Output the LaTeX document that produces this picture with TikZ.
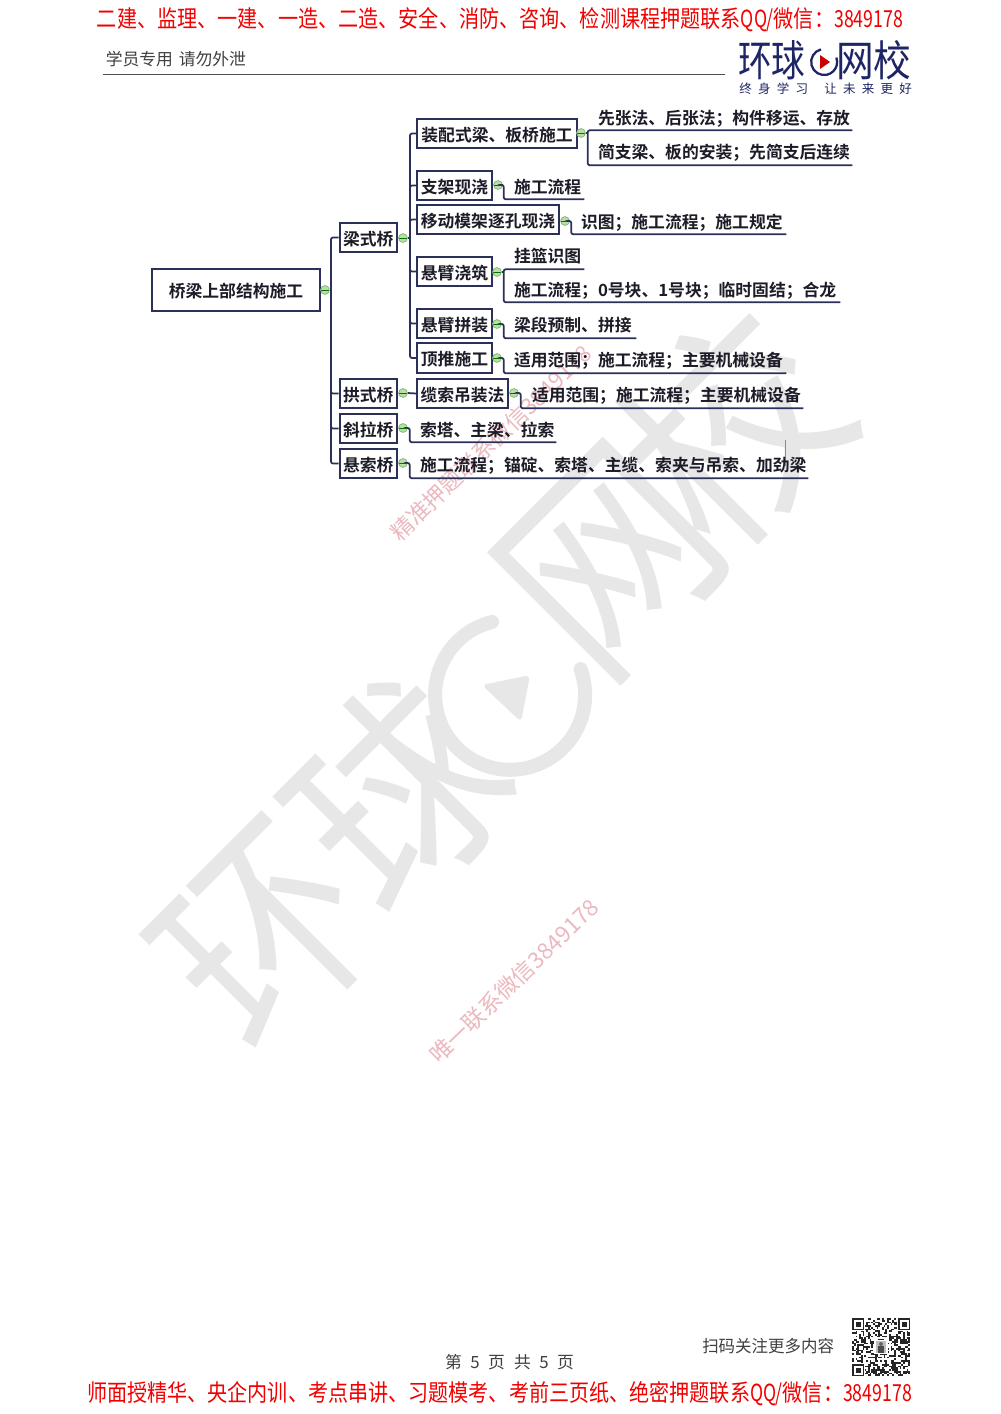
\documentclass[tikz,border=0pt]{standalone}
\usepackage{fontspec}
\setmainfont{Noto Sans CJK SC}[BoldFont={Noto Sans CJK SC Bold}]
\newfontfamily\subf[LetterSpace=50]{Noto Sans CJK SC}
\definecolor{navy}{HTML}{2B3058}
\definecolor{ink}{HTML}{1C1C28}
\definecolor{logoblue}{HTML}{1E2566}
\definecolor{wm}{HTML}{E7E7E7}
\definecolor{wmred}{HTML}{EBB9BF}
\definecolor{tgfill}{HTML}{BBDDAA}
\definecolor{tgline}{HTML}{86B878}
\tikzset{
  mapbox/.style={draw=navy,line width=1.5pt,fill=white,inner sep=0pt,font=\fontsize{12.6pt}{14pt}\selectfont\bfseries,text=ink},
  leaf/.style={inner sep=0pt,font=\fontsize{12.6pt}{14pt}\selectfont\bfseries,text=ink},
  conn/.style={draw=navy,line width=1.3pt,rounded corners=1.5pt},
  toggle/.style={circle,draw=tgline,fill=tgfill,line width=.6pt,minimum size=6.6pt,inner sep=0pt,
     path picture={\draw[black!55!green,line width=.5pt](path picture bounding box.west)--(path picture bounding box.east);}},
  grayt/.style={text=black!75,font=\fontsize{12.6pt}{14pt}\selectfont},
  redt/.style={text=red!95!black,inner sep=0pt},
  wmchar/.style={text=wm,inner sep=0pt,rotate=45,font=\fontsize{165pt}{165pt}\selectfont},
  wmsmall/.style={text=wmred,inner sep=0pt,rotate=44,font=\fontsize{17pt}{18pt}\selectfont},
}
\newcommand{\nar}[1]{\scalebox{.88}[1]{#1}}
\newcommand{\mbx}[6]{\node[mapbox,minimum width={(#4-#2)*0.75pt},minimum height={(#5-#3)*0.75pt}] (#1) at ({(#2+#4)/2},{(#3+#5)/2}) {\raisebox{0pt}[11.5pt][0pt]{#6}};}
\newcommand{\lf}[7]{\pgfmathsetlengthmacro\lw{(#3-#2)*0.75pt}\pgfmathsetlengthmacro\ls{(#6-#2)*0.75pt}\pgfmathsetlengthmacro\lh{2*(#4-#5)*0.75pt}%
  \node[leaf,minimum height=\lh] (#1) at ({(#2+#3)/2},#5) {\hbox to \lw{\hskip\ls\raisebox{0pt}[10pt][0pt]{#7}\hfil}};}
\begin{document}
\begin{tikzpicture}[x=0.75pt,y=-0.75pt]
\useasboundingbox (0,0) rectangle (1000,1414);
\fill[white] (0,0) rectangle (1000,1414);
% big watermark
\node[wmchar] (wm1) at (268,938) {\scalebox{.88}[1]{环}};
\node[wmchar] (wm2) at (398,795) {\scalebox{.9}[1]{球}};
\node[wmchar] (wm4) at (612,562) {\scalebox{.9}[1]{网}};
\node[wmchar] (wm5) at (732,428) {\scalebox{.95}[1]{校}};
\draw[wm,line width=10.5pt,line cap=round] (492,622) arc[start angle=256,end angle=-20,radius=75];
\fill[wm,rounded corners=4pt] (482,685) -- (530,675) -- (521,722) -- cycle;
% red small watermarks
\node[wmsmall] (wm6) at (491,443) {精准押题联系微信3849178};
\node[wmsmall] (wm7) at (514,981) {唯一联系微信3849178};
\draw[black!45,line width=.4pt] (785,440) -- (785,466);
% header
\node[redt] (top) at (500,20) {\resizebox{604.5pt}{15pt}{\fontsize{15pt}{15pt}\selectfont 二建、监理、一建、一造、二造、安全、消防、咨询、检测课程押题联系\nar{QQ/}微信：\nar{3849178}}};
\node[grayt,inner sep=0pt,anchor=west] (stu) at (105.5,59) {学员专用\hspace{.35em}请勿外泄};
\draw[black!70,line width=.9pt] (103,74.5) -- (725,74.5);
\node[text=logoblue,inner sep=0pt,anchor=west] (lg1) at (738,60) {\resizebox{50.5pt}{27pt}{\fontsize{27pt}{27pt}\selectfont 环球}};
\node[text=logoblue,inner sep=0pt,anchor=west] (lg2) at (836,60) {\resizebox{56.5pt}{27pt}{\fontsize{27pt}{27pt}\selectfont 网校}};
\draw[logoblue,line width=1.7pt] (821,49.4) arc[start angle=256,end angle=-20,radius=13];
\fill[red!80!black] (820,55) -- (830,62) -- (820,69) -- cycle;
\node[text=logoblue,inner sep=0pt,anchor=west,font=\fontsize{9.4pt}{10pt}\subf] (lg3) at (739,89) {终身学习};
\node[text=logoblue,inner sep=0pt,anchor=west,font=\fontsize{9.4pt}{10pt}\subf] (lg4) at (824,89) {让未来更好};
% map boxes
\mbx{root}{152}{269}{320}{311}{桥梁上部结构施工}
\mbx{liang}{339.5}{223}{397}{252}{梁式桥}
\mbx{gong}{339.5}{379}{397}{408}{拱式桥}
\mbx{xie}{339.5}{414}{397}{443}{斜拉桥}
\mbx{xuan}{339.5}{449}{397}{478}{悬索桥}
\mbx{zp}{417}{119}{577}{148}{装配式梁、板桥施工}
\mbx{zj}{417}{171}{492}{200}{支架现浇}
\mbx{yd}{417}{205}{559}{234}{移动模架逐孔现浇}
\mbx{jz}{417}{257}{492}{286}{悬臂浇筑}
\mbx{pz}{417}{309}{492}{338}{悬臂拼装}
\mbx{dt}{417}{343}{492}{373}{顶推施工}
\mbx{ls}{417}{379}{508}{408}{缆索吊装法}
% leaves
\lf{a1}{588}{852}{130}{118}{598}{先张法、后张法；构件移运、存放}
\lf{a2}{588}{852}{165}{152}{598}{简支梁、板的安装；先简支后连续}
\lf{b1}{504}{584}{199}{187}{514}{施工流程}
\lf{c1}{571.5}{786}{234}{222}{581}{识图；施工流程；施工规定}
\lf{d1}{504}{584}{269}{256}{514}{挂篮识图}
\lf{d2}{504}{840}{302}{290}{514}{施工流程；0号块、1号块；临时固结；合龙}
\lf{e1}{504}{636}{338}{325}{514}{梁段预制、拼接}
\lf{f1}{504}{786}{373}{360}{514}{适用范围；施工流程；主要机械设备}
\lf{g1}{521}{803}{408}{395}{532}{适用范围；施工流程；主要机械设备}
\lf{h1}{410}{556}{442}{430}{420}{索塔、主梁、拉索}
\lf{i1}{410}{808}{478}{465}{420}{施工流程；锚碇、索塔、主缆、索夹与吊索、加劲梁}
% toggles
\node[toggle] (troot) at (325,290) {};
\node[toggle] (tliang) at (403,238) {};
\node[toggle] (tgong) at (403,393) {};
\node[toggle] (txie) at (403,428) {};
\node[toggle] (txuan) at (403,463) {};
\node[toggle] (tzp) at (581,133) {};
\node[toggle] (tzj) at (498,185) {};
\node[toggle] (tyd) at (565,221) {};
\node[toggle] (tjz) at (497,272) {};
\node[toggle] (tpz) at (497,324) {};
\node[toggle] (tdt) at (497,358) {};
\node[toggle] (tls) at (514,393) {};
% trunks
\coordinate (t1) at (331,290);
\coordinate (t2) at (410,238);
\draw[conn] (troot.east) -- (t1);
\draw[conn] (t1) |- (liang.west);
\draw[conn] (t1) |- (xuan.west);
\draw[conn] (t1) |- (gong.west);
\draw[conn] (t1) |- (xie.west);
\draw[conn] (tliang.east) -- (t2);
\draw[conn] (t2) |- (zp.west);
\draw[conn] (t2) |- (dt.west);
\draw[conn] (t2) |- (zj.west);
\draw[conn] (t2) |- (yd.west);
\draw[conn] (t2) |- (jz.west);
\draw[conn] (t2) |- (pz.west);
\draw[conn] (tgong.east) -- (ls.west);
% brackets
\draw[conn] (a1.south east) -- (a1.south west) -- (a2.south west) -- (a2.south east);
\draw[conn] (tzp.east) -- (tzp.east -| a1.south west);
\draw[conn] (d1.south east) -- (d1.south west) -- (d2.south west) -- (d2.south east);
\draw[conn] (tjz.east) -- (tjz.east -| d1.south west);
\draw[conn] (tzj.east) -| (b1.south west) -- (b1.south east);
\draw[conn] (tyd.east) -| (c1.south west) -- (c1.south east);
\draw[conn] (tpz.east) -| (e1.south west) -- (e1.south east);
\draw[conn] (tdt.east) -| (f1.south west) -- (f1.south east);
\draw[conn] (tls.east) -| (g1.south west) -- (g1.south east);
\draw[conn] (txie.east) -| (h1.south west) -- (h1.south east);
\draw[conn] (txuan.east) -| (i1.south west) -- (i1.south east);
% footer
\node[grayt,inner sep=0pt] (pg) at (509.5,1362) {第\hspace{.5em}5\hspace{.5em}页\hspace{.55em}共\hspace{.5em}5\hspace{.5em}页};
\node[grayt,inner sep=0pt,anchor=west] (scan) at (702,1346) {\scalebox{.98}[1]{扫码关注更多内容}};
\node[redt] (bot) at (499.5,1394) {\resizebox{618.5pt}{15pt}{\fontsize{15pt}{15pt}\selectfont 师面授精华、央企内训、考点串讲、习题模考、考前三页纸、绝密押题联系\nar{QQ/}微信：\nar{3849178}}};
% QR code
\begin{scope}[shift={(852,1318)}]
\pgfmathsetseed{4711}
\foreach \i in {0,...,32}{\foreach \j in {0,...,32}{
  \pgfmathparse{rnd<0.5?1:0}
  \ifnum\pgfmathresult=1 \fill[black!85] ({\i*1.76},{\j*1.76}) rectangle ++(1.76,1.76);\fi
}}
\foreach \fx/\fy in {0/0,46/0,0/46}{
  \fill[white] (\fx-1,\fy-1) rectangle ++(14.3,14.3);
  \fill[black!85] (\fx,\fy) rectangle ++(12.3,12.3);
  \fill[white] (\fx+1.76,\fy+1.76) rectangle ++(8.8,8.8);
  \fill[black!85] (\fx+3.5,\fy+3.5) rectangle ++(5.3,5.3);
}
\fill[white] (22,22) rectangle ++(14,14);
\fill[black!25] (24,23) rectangle ++(10,12);
\fill[black!70] (26,28) rectangle ++(6,7);
\fill[black!60] (29,26) circle (2);
\end{scope}
\end{tikzpicture}
\end{document}
